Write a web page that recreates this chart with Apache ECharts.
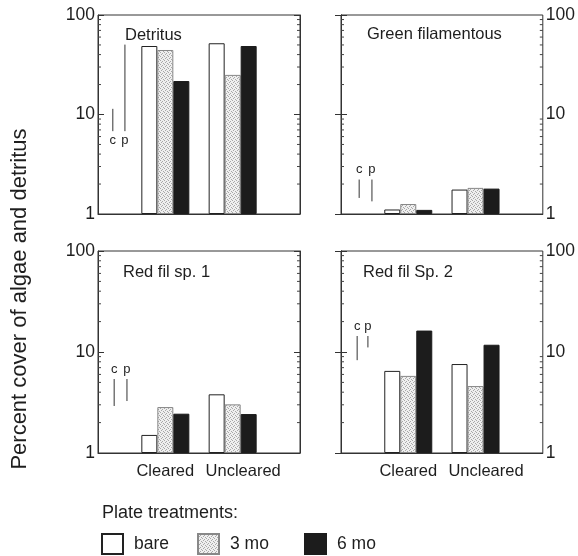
<!DOCTYPE html>
<html>
<head>
<meta charset="utf-8">
<script src="https://cdn.jsdelivr.net/npm/echarts@6/dist/echarts.min.js"></script>
<style>
    html, body { margin: 0; padding: 0; background: #fff; }
    #chart { width: 578px; height: 556px; }
</style>
</head>
<body>
<div id="chart"></div>
<script>
// 数据
var groups = ['Cleared', 'Uncleared'];
var treatments = ['bare', '3 mo', '6 mo'];
var panelNames = ['Detritus', 'Green filamentous', 'Red fil sp. 1', 'Red fil Sp. 2'];
var yTicks = [1, 10, 100];
// 每个面板 [Cleared, Uncleared]
var bareVals = [[48.8, 52], [1.11, 1.76], [1.51, 3.81], [6.5, 7.6]];
var mo3Vals = [[44.5, 25], [1.26, 1.83], [2.85, 3.03], [5.8, 4.6]];
var mo6Vals = [[21.7, 48.8], [1.10, 1.80], [2.45, 2.43], [16.3, 11.8]];
// c / p 线 [x, low, high]
var cBars = [[0.22, 6.8, 11.4], [0.27, 1.45, 2.22], [0.24, 2.92, 5.4], [0.24, 8.3, 14.4]];
var pBars = [[0.40, 6.8, 50.4], [0.46, 1.34, 2.22], [0.43, 3.27, 5.4], [0.40, 11.1, 14.4]];
var cpNames = ['c', 'p'];
var minorTicks = [2, 3, 4, 5, 6, 7, 8, 9, 20, 30, 40, 50, 60, 70, 80, 90];

// 布局
var grids = [
    { left: 98, top: 15, width: 202, height: 199 },
    { left: 341, top: 15, width: 202, height: 199 },
    { left: 98, top: 251, width: 202, height: 202 },
    { left: 341, top: 251, width: 202, height: 202 }
];
var labelSide = ['left', 'right', 'left', 'right'];
var titlePos = [[125, 27], [367, 26], [123, 264], [363, 264]];
var cpBelow = [true, false, false, false];

var ink = '#1e1e1e';
var font = 'Liberation Sans, Arial, sans-serif';

// 3 mo 点状填充
var dots = document.createElement('canvas');
dots.width = 4;
dots.height = 4;
var ctx = dots.getContext('2d');
ctx.fillStyle = '#efefef';
ctx.fillRect(0, 0, 4, 4);
ctx.fillStyle = '#a8a8a8';
ctx.fillRect(0, 0, 1, 1);
ctx.fillRect(2, 1, 1, 1);
ctx.fillRect(1, 2, 1, 1);
ctx.fillRect(3, 3, 1, 1);

var barStyles = [
    { color: '#fff', borderColor: '#222', borderWidth: 1 },
    { color: { image: dots, repeat: 'repeat' }, borderColor: '#888', borderWidth: 1 },
    { color: '#1c1c1c', borderColor: '#1c1c1c', borderWidth: 1 }
];
var allVals = [bareVals, mo3Vals, mo6Vals];

var option = {
    backgroundColor: '#fff',
    animation: false,
    textStyle: { fontFamily: font, color: ink },
    grid: [],
    xAxis: [],
    yAxis: [],
    series: [],
    title: [],
    legend: [],
    graphic: [{
        type: 'text',
        x: 20,
        y: 299,
        rotation: Math.PI / 2,
        style: {
            text: 'Percent cover of algae and detritus',
            align: 'center',
            verticalAlign: 'middle',
            fontSize: 22,
            fontFamily: font,
            fill: ink
        }
    }]
};

for (var i = 0; i < 4; i++) {
    option.grid.push({
        left: grids[i].left, top: grids[i].top, width: grids[i].width, height: grids[i].height,
        show: true, borderColor: '#333', borderWidth: 1
    });
    var bottomRow = i >= 2;
    option.xAxis.push({
        type: 'value',
        gridIndex: i,
        min: 0,
        max: 3,
        interval: 1,
        axisLine: { show: true, lineStyle: { color: '#333' } },
        axisTick: { show: false },
        splitLine: { show: false },
        axisLabel: {
            show: bottomRow,
            margin: 10,
            fontSize: 16.5,
            color: ink,
            fontFamily: font,
            formatter: function(v) {
                if (v == 1) return groups[0];
                if (v == 2) return '{u|' + groups[1] + '}';
                return '';
            },
            rich: { u: { fontSize: 16.5, fontFamily: font, color: ink, padding: [0, 0, 0, 21] } }
        }
    });
    // 标签侧 与 对侧 两条 y 轴
    var sides = [labelSide[i], labelSide[i] == 'left' ? 'right' : 'left'];
    for (var s = 0; s < 2; s++) {
        option.yAxis.push({
            type: 'log',
            logBase: 10,
            gridIndex: i,
            position: sides[s],
            min: yTicks[0],
            max: yTicks[yTicks.length - 1],
            axisLine: { show: true, lineStyle: { color: '#333' } },
            axisTick: { show: true, inside: true, length: 6, lineStyle: { color: '#333' } },
            splitLine: { show: false },
            axisLabel: { show: s == 0, fontSize: 17.5, margin: 3, color: ink, fontFamily: font }
        });
    }
    // 柱
    for (var k = 0; k < 3; k++) {
        option.series.push({
            name: treatments[k],
            type: 'bar',
            xAxisIndex: i,
            yAxisIndex: i * 2,
            barWidth: 16,
            barGap: '0%',
            itemStyle: barStyles[k],
            data: [[1, allVals[k][i][0]], [2, allVals[k][i][1]]]
        });
    }
    // c / p 线
    option.series.push({
        type: 'custom',
        xAxisIndex: i,
        yAxisIndex: i * 2,
        silent: true,
        data: [cBars[i], pBars[i]],
        renderItem: (function(below) {
            return function(params, api) {
                var top = api.coord([api.value(0), api.value(2)]);
                var bot = api.coord([api.value(0), api.value(1)]);
                return {
                    type: 'group',
                    children: [{
                        type: 'line',
                        shape: { x1: top[0], y1: top[1], x2: bot[0], y2: bot[1] },
                        style: { stroke: '#333', lineWidth: 1 }
                    }, {
                        type: 'text',
                        style: {
                            text: cpNames[params.dataIndex],
                            x: top[0],
                            y: below ? bot[1] + 9 : top[1] - 10,
                            align: 'center',
                            verticalAlign: 'middle',
                            fontSize: 13,
                            fontFamily: font,
                            fill: ink
                        }
                    }]
                };
            };
        })(cpBelow[i])
    });
    // 次刻度
    option.series.push({
        type: 'custom',
        xAxisIndex: i,
        yAxisIndex: i * 2,
        silent: true,
        data: minorTicks.map(function(v) { return [0, v]; }),
        renderItem: function(params, api) {
            var l = api.coord([0, api.value(1)]);
            var r = api.coord([3, api.value(1)]);
            return {
                type: 'group',
                children: [{
                    type: 'line',
                    shape: { x1: l[0], y1: l[1], x2: l[0] + 3, y2: l[1] },
                    style: { stroke: '#444', lineWidth: 1 }
                }, {
                    type: 'line',
                    shape: { x1: r[0], y1: r[1], x2: r[0] - 3, y2: r[1] },
                    style: { stroke: '#444', lineWidth: 1 }
                }]
            };
        }
    });
    option.title.push({
        text: panelNames[i],
        left: titlePos[i][0],
        top: titlePos[i][1],
        padding: 0,
        textStyle: { fontSize: 16.5, fontWeight: 'normal', color: ink, fontFamily: font }
    });
}

// 图例
option.title.push({
    text: 'Plate treatments:',
    left: 102,
    top: 504,
    padding: 0,
    textStyle: { fontSize: 18, fontWeight: 'normal', color: ink, fontFamily: font }
});
var legendLeft = [101, 197, 304];
for (var k = 0; k < 3; k++) {
    option.legend.push({
        data: [treatments[k]],
        left: legendLeft[k],
        top: 533,
        padding: 0,
        icon: 'rect',
        itemWidth: 21,
        itemHeight: 20,
        selectedMode: false,
        textStyle: { fontSize: 17.5, color: ink, fontFamily: font, padding: [0, 0, 0, 6] }
    });
}

var chart = echarts.init(document.getElementById('chart'));
chart.setOption(option);
</script>
</body>
</html>
